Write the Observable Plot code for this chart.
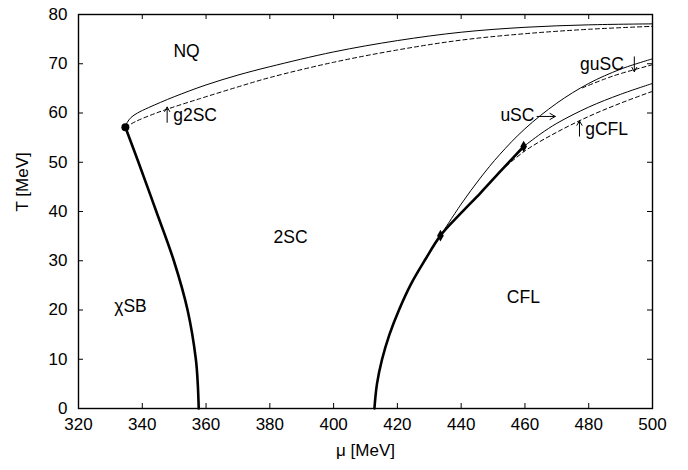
<!DOCTYPE html>
<html><head><meta charset="utf-8">
<script src="https://cdn.jsdelivr.net/npm/d3@7"></script>
<script src="https://cdn.jsdelivr.net/npm/@observablehq/plot@0.6"></script>
<style>body{margin:0;background:#fff} svg{display:block}</style>
</head><body><div id="chart"></div>
<script>
const xTicks = [320,340,360,380,400,420,440,460,480,500];
const yTicks = [0,10,20,30,40,50,60,70,80];

// chiSB - 2SC boundary (thick)
const chiMu = [334.7,338.8,344.4,349.9,354.2,356.8,357.4,357.7];
const chiT  = [57.1,50,40,30,20,10,5,0];
// 2SC - CFL boundary (thick)
const cflMu = [412.8,413.6,415.2,417.5,420.5,424.3,428.8,433.5,440,446.1,452.5,459.6];
const cflT  = [0,5,10,15,20,25.3,30.3,35.1,39.7,43.8,48.3,53.2];
// NQ boundary (thin solid)
const nqMu = [334.7,335.3,336.5,338.5,342,350,360,370,380,400,420,440,460,480,500];
const nqT  = [57.1,58.1,59.1,60,61.1,63.3,65.7,67.7,69.4,72.4,74.7,76.4,77.4,77.9,78.1];
// g2SC boundary (dashed)
const g2Mu = [334.7,338,342,347,358,370,380,400,420,440,460,480,500];
const g2T  = [57.1,58.3,59.4,60.6,62.9,65.3,67.2,70.3,72.8,74.8,76.1,77,77.6];
// uSC boundary (thin solid)
const uscMu = [433.5,440,446,452,460,470,480,490,500];
const uscT  = [35.1,41.5,46.8,51.5,56.8,62,66,68.9,71];
// guSC boundary (dashed)
const guMu = [478,485,490,500];
const guT  = [65.1,66.9,68,69.8];
// gCFL upper (thin solid)
const gcMu = [459.6,465,470,480,490,500];
const gcT  = [53.2,55.8,57.9,61.2,63.8,66];
// gCFL (dashed)
const gdMu = [452.5,460,470,480,490,500];
const gdT  = [48.3,52.3,56.1,59.3,62,64.4];
// points
const dotMu = [334.7]; const dotT = [57.1];
const diaMu = [433.5,459.6]; const diaT = [35.1,53.2];
// region labels, centred
const midText = ["NQ","2SC","χSB","CFL"];
const midMu = [353.9,386.5,336.3,459.5];
const midT  = [72.6,34.7,20.7,22.5];
// phase labels, left-aligned
const startText = ["g2SC","uSC","guSC","gCFL"];
const startMu = [349.7,452.3,477.3,478.9];
const startT  = [59.5,59.5,69.8,56.6];
// label arrows (from -> to)
const arrMu1 = [347.8,463.8,494.3,477.1];
const arrT1  = [58.1,59.3,71.4,55.3];
const arrMu2 = [347.8,469.5,494.3,477.1];
const arrT2  = [61.2,59.3,68.4,58.4];

const pts = (mu, T) => mu.map((m, i) => ({mu: m, T: T[i]}));
const mids = midText.map((t, i) => ({text: t, mu: midMu[i], T: midT[i]}));
const starts = startText.map((t, i) => ({text: t, mu: startMu[i], T: startT[i]}));
const arrows = arrMu1.map((m, i) => ({x1: m, y1: arrT1[i], x2: arrMu2[i], y2: arrT2[i]}));

const W = 688, H = 470, mL = 78, mR = 36, mT = 14, mB = 62;
const fw = W - mL - mR, fh = H - mT - mB;
const font = "'Liberation Sans', Arial, sans-serif";

const line = (mu, T, opts) => Plot.line(pts(mu, T), {x: "mu", y: "T", stroke: "black", curve: "catmull-rom", ...opts});

const chart = Plot.plot({
  width: W, height: H,
  marginLeft: mL, marginRight: mR, marginTop: mT, marginBottom: mB,
  style: {fontFamily: font, fontSize: "17px", background: "white", color: "black"},
  x: {domain: [320, 500], axis: null},
  y: {domain: [0, 80], axis: null},
  marks: [
    Plot.frame({stroke: "black", strokeWidth: 1.4}),
    Plot.ruleX(xTicks, {x: d => d, insetTop: fh - 5, stroke: "black"}),
    Plot.ruleX(xTicks, {x: d => d, insetBottom: fh - 5, stroke: "black"}),
    Plot.ruleY(yTicks, {y: d => d, insetRight: fw - 5, stroke: "black"}),
    Plot.ruleY(yTicks, {y: d => d, insetLeft: fw - 5, stroke: "black"}),
    Plot.axisX({ticks: xTicks, tickSize: 0, tickPadding: 9, label: null, fontSize: 17}),
    Plot.axisY({ticks: yTicks, tickSize: 0, tickPadding: 11, label: null, fontSize: 17}),
    Plot.text(["μ [MeV]"], {frameAnchor: "bottom", dy: 47, fontSize: 17}),
    Plot.text(["T [MeV]"], {frameAnchor: "left", dx: -56, rotate: -90, fontSize: 17}),
    line(nqMu, nqT, {strokeWidth: 1}),
    line(g2Mu, g2T, {strokeWidth: 1, strokeDasharray: "4,3"}),
    line(uscMu, uscT, {strokeWidth: 1}),
    line(guMu, guT, {strokeWidth: 1, strokeDasharray: "4,3"}),
    line(gcMu, gcT, {strokeWidth: 1}),
    line(gdMu, gdT, {strokeWidth: 1, strokeDasharray: "4,3"}),
    line(chiMu, chiT, {strokeWidth: 2.6}),
    line(cflMu, cflT, {strokeWidth: 2.6}),
    Plot.dot(pts(dotMu, dotT), {x: "mu", y: "T", r: 4, fill: "black"}),
    Plot.dot(pts(diaMu, diaT), {x: "mu", y: "T", r: 3.5, fill: "black", symbol: "diamond"}),
    Plot.text(mids, {x: "mu", y: "T", text: "text", textAnchor: "middle", fontSize: 17.5, fill: "black"}),
    Plot.text(starts, {x: "mu", y: "T", text: "text", textAnchor: "start", fontSize: 17.5, fill: "black"}),
    Plot.arrow(arrows, {x1: "x1", y1: "y1", x2: "x2", y2: "y2", stroke: "black", strokeWidth: 1, headLength: 10, headAngle: 60})
  ]
});
document.getElementById("chart").appendChild(chart);
</script>
</body></html>
